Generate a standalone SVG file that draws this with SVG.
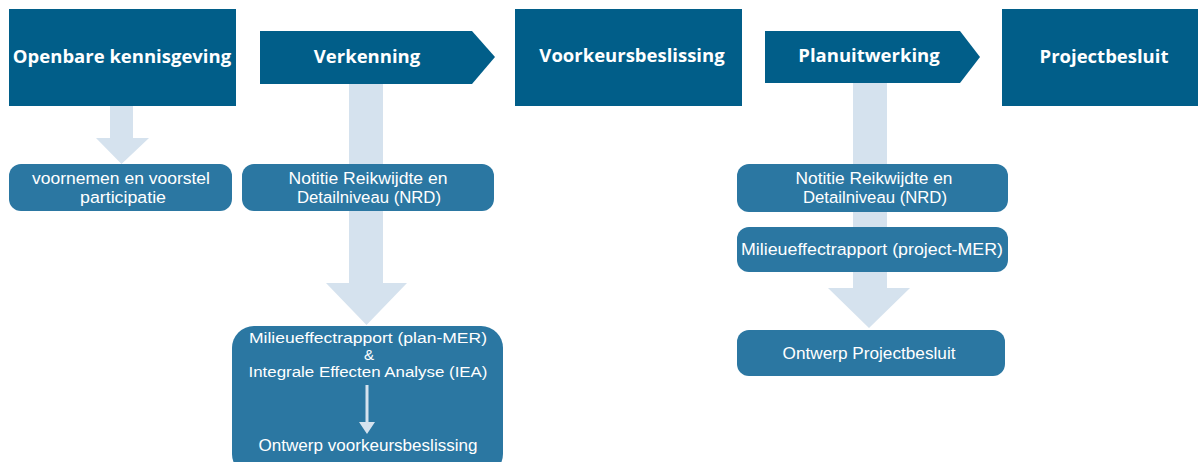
<svg xmlns="http://www.w3.org/2000/svg" width="1198" height="462" viewBox="0 0 1198 462">
<style>
.hdr{fill:#015e89}
.box{fill:#2b77a2}
.conn{fill:#d5e2ee}
.ht{font-family:"Open Sans","Noto Sans",sans-serif;font-weight:bold;font-size:18.5px;fill:#ffffff;text-anchor:middle}
.bt{font-family:"Liberation Sans",Arial,sans-serif;font-size:16.8px;fill:#ffffff;text-anchor:middle}
.bs{font-family:"Liberation Sans",Arial,sans-serif;font-size:15.2px;fill:#ffffff;text-anchor:middle}
</style>
<rect width="1198" height="462" fill="#ffffff"/>
<g id="connectors">
<polygon class="conn" points="110,106 133,106 133,138 149,138 121.5,164 96,138 110,138"/>
<polygon class="conn" points="349,84 383,84 383,283 407,283 366.5,325 326,283 349,283"/>
<polygon class="conn" points="853,83 887,83 887,288 910,288 869,328 828,288 853,288"/>
</g>
<g id="openbare-kennisgeving">
<rect class="hdr" x="9" y="9" width="227" height="97"/>
<text class="ht" x="122" y="63">Openbare kennisgeving</text>
</g>
<g id="verkenning">
<polygon class="hdr" points="260,31 472,31 495,57 472,84 260,84"/>
<text class="ht" x="367" y="63">Verkenning</text>
</g>
<g id="voorkeursbeslissing">
<rect class="hdr" x="515" y="9" width="227" height="97"/>
<text class="ht" x="632" y="62">Voorkeursbeslissing</text>
</g>
<g id="planuitwerking">
<polygon class="hdr" points="765,31 960,31 980,57 960,83 765,83"/>
<text class="ht" x="869" y="62">Planuitwerking</text>
</g>
<g id="projectbesluit">
<rect class="hdr" x="1002" y="9" width="196" height="97"/>
<text class="ht" x="1104" y="63">Projectbesluit</text>
</g>
<g id="voornemen">
<rect class="box" x="9" y="164" width="223" height="47" rx="12"/>
<text class="bt" x="121" y="184" textLength="178" lengthAdjust="spacingAndGlyphs">voornemen en voorstel</text>
<text class="bt" x="123" y="203" textLength="86" lengthAdjust="spacingAndGlyphs">participatie</text>
</g>
<g id="nrd-verkenning">
<rect class="box" x="242" y="164" width="252" height="47" rx="12"/>
<text class="bt" x="368" y="184" textLength="159" lengthAdjust="spacingAndGlyphs">Notitie Reikwijdte en</text>
<text class="bt" x="369" y="203" textLength="144" lengthAdjust="spacingAndGlyphs">Detailniveau (NRD)</text>
</g>
<g id="plan-mer">
<rect class="box" x="232" y="326" width="271" height="150" rx="22"/>
<text class="bs" x="368" y="343" textLength="238" lengthAdjust="spacingAndGlyphs">Milieueffectrapport (plan-MER)</text>
<text class="bs" x="369" y="360">&amp;</text>
<text class="bs" x="368" y="377" textLength="239" lengthAdjust="spacingAndGlyphs">Integrale Effecten Analyse (IEA)</text>
<polygon class="conn" points="365.5,385 368.5,385 368.5,422 375,422 367,434 359,422 365.5,422"/>
<text class="bt" x="368" y="451" textLength="219" lengthAdjust="spacingAndGlyphs">Ontwerp voorkeursbeslissing</text>
</g>
<g id="nrd-planuitwerking">
<rect class="box" x="737" y="164" width="271" height="48" rx="12"/>
<text class="bt" x="874" y="184" textLength="157" lengthAdjust="spacingAndGlyphs">Notitie Reikwijdte en</text>
<text class="bt" x="875" y="203" textLength="144" lengthAdjust="spacingAndGlyphs">Detailniveau (NRD)</text>
</g>
<g id="project-mer">
<rect class="box" x="737" y="227" width="271" height="45" rx="12"/>
<text class="bt" x="872" y="255" textLength="262" lengthAdjust="spacingAndGlyphs">Milieueffectrapport (project-MER)</text>
</g>
<g id="ontwerp-projectbesluit">
<rect class="box" x="737" y="330" width="268" height="46" rx="12"/>
<text class="bt" x="869" y="359" textLength="173" lengthAdjust="spacingAndGlyphs">Ontwerp Projectbesluit</text>
</g>
</svg>
